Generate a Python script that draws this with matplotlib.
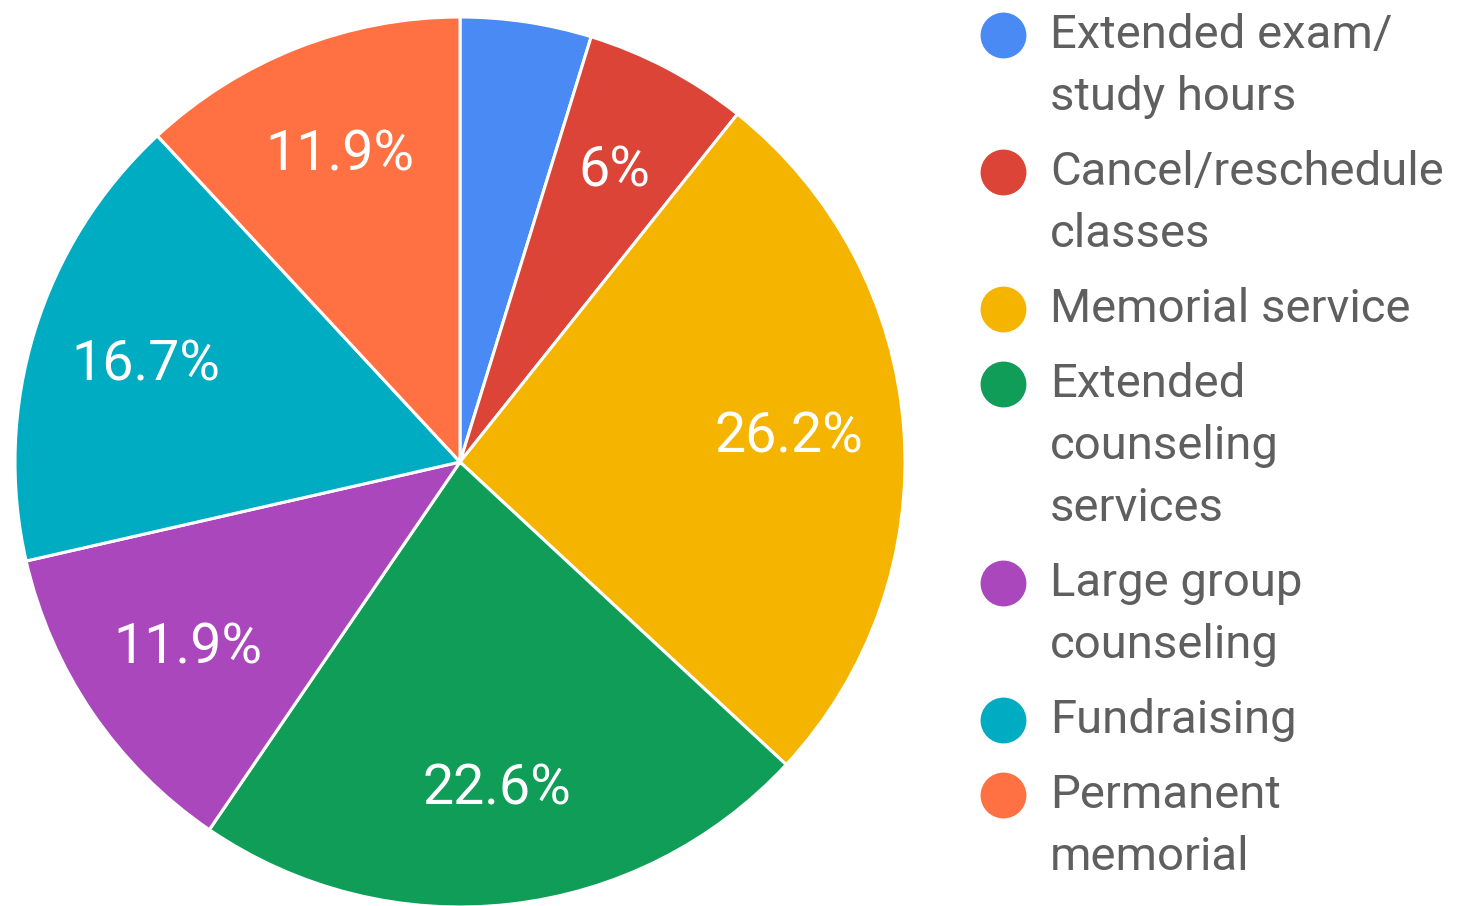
import matplotlib.pyplot as plt

plt.rcParams['font.family'] = ['Roboto', 'DejaVu Sans']

labels = ["Extended exam/\nstudy hours", "Cancel/reschedule\nclasses", "Memorial service",
          "Extended\ncounseling\nservices", "Large group\ncounseling", "Fundraising",
          "Permanent\nmemorial"]
counts = [4, 5, 22, 19, 10, 14, 10]
colors = ["#4a8af4", "#db4437", "#f4b400", "#0f9d58", "#ab47bc", "#00acc1", "#ff7043"]

def pct(p):
    if p < 5:
        return ""
    return f"{p:.1f}".rstrip("0").rstrip(".") + "%"

fig = plt.figure(figsize=(14.58, 9.06), dpi=100)

# pie axes: centre at (460, 462) px, radius ~445 px
r = 445
ax = fig.add_axes([(460 - r) / 1458, (906 - 462 - r) / 906, 2 * r / 1458, 2 * r / 906])
wedges, texts, autotexts = ax.pie(counts, colors=colors, startangle=90, counterclock=False,
                                  autopct=pct, pctdistance=0.74,
                                  wedgeprops=dict(edgecolor="white", linewidth=2.2))
for t in autotexts:
    t.set_color("white")
    t.set_fontsize(40)
ax.set_xlim(-1, 1)
ax.set_ylim(-1, 1)
ax.set_aspect("equal")
ax.axis("off")

# legend drawn by hand so the marker sits on the first line
y = 35
for lab, c in zip(labels, colors):
    fig.lines.append(plt.Line2D([1003 / 1458], [1 - y / 906], marker="o", markersize=32,
                                color=c, transform=fig.transFigure, linestyle="none"))
    lines = lab.split("\n")
    for i, line in enumerate(lines):
        fig.text(1050 / 1458, 1 - (y + i * 62) / 906, line, fontsize=34, color="#5f5f5f",
                 va="center", ha="left")
    y += 62 * (len(lines) - 1) + 75

fig.savefig("out.png", dpi=100)
